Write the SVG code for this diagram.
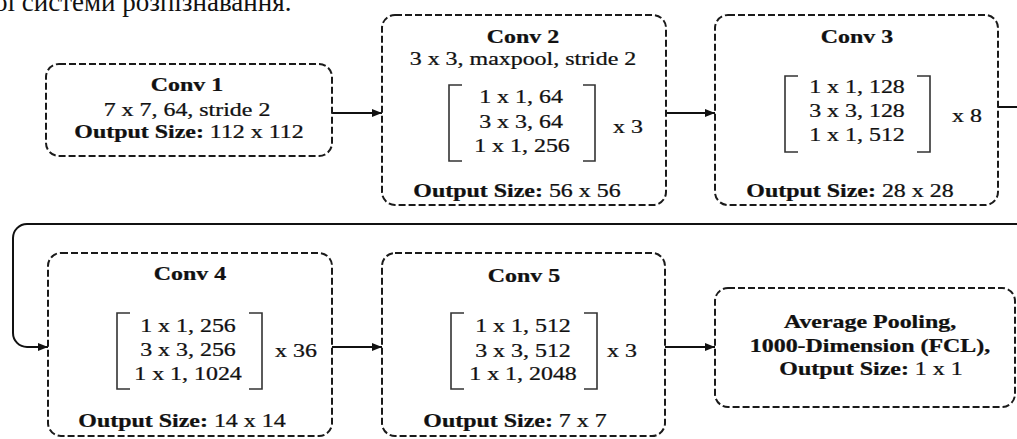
<svg xmlns="http://www.w3.org/2000/svg" width="1017" height="439" viewBox="0 0 1017 439">
<style>
.t{font-family:"Liberation Serif","Times New Roman",serif;font-size:18px;fill:#111;stroke:#111;stroke-width:0.25}
.m{text-anchor:middle}
.b{font-weight:bold}
.box{fill:none;stroke:#1a1a1a;stroke-width:2;stroke-dasharray:7 3}
.br{fill:none;stroke:#333;stroke-width:1.6}
.conn{fill:none;stroke:#111;stroke-width:2}
.cap{font-family:"Liberation Serif","Times New Roman",serif;font-size:27px;fill:#111}
</style>
<defs>
<marker id="ah" markerUnits="userSpaceOnUse" markerWidth="10" markerHeight="8" refX="10" refY="4" orient="auto">
<path d="M0,0 L10,4 L0,8 z" fill="#111"/>
</marker>
</defs>
<rect width="1017" height="439" fill="#fff"/>
<text class="cap" x="-6" y="11">ої системи розпізнавання.</text>

<g id="connectors">
<path class="conn" d="M332,113 H382" marker-end="url(#ah)"/>
<path class="conn" d="M666,113 H715" marker-end="url(#ah)"/>
<path class="conn" d="M998,107 H1030 V224 H27 A14 14 0 0 0 13,238 V333 A14 14 0 0 0 27,347 H48" marker-end="url(#ah)"/>
<path class="conn" d="M332,347 H382" marker-end="url(#ah)"/>
<path class="conn" d="M665,347 H715" marker-end="url(#ah)"/>
</g>

<g id="conv1">
<rect class="box" x="46" y="64" width="286" height="92" rx="13"/>
<text class="t m b" transform="translate(187,91) scale(1.33,1)">Conv 1</text>
<text class="t m" transform="translate(187,116) scale(1.33,1)">7 x 7, 64, stride 2</text>
<text class="t m" transform="translate(189,138) scale(1.33,1)"><tspan class="b">Output Size:</tspan> 112 x 112</text>
</g>

<g id="conv2">
<rect class="box" x="382" y="15" width="284" height="190" rx="13"/>
<text class="t m b" transform="translate(523,43) scale(1.33,1)">Conv 2</text>
<text class="t m" transform="translate(523,65) scale(1.33,1)">3 x 3, maxpool, stride 2</text>
<path class="br" d="M462,85 H449 V161 H462 M583,85 H595 V161 H583"/>
<text class="t m" transform="translate(521,103) scale(1.33,1)">1 x 1, 64</text>
<text class="t m" transform="translate(521,128) scale(1.33,1)">3 x 3, 64</text>
<text class="t m" transform="translate(522,152) scale(1.33,1)">1 x 1, 256</text>
<text class="t" transform="translate(613,133) scale(1.33,1)">x 3</text>
<text class="t m" transform="translate(517,197) scale(1.33,1)"><tspan class="b">Output Size:</tspan> 56 x 56</text>
</g>

<g id="conv3">
<rect class="box" x="715" y="15" width="283" height="190" rx="13"/>
<text class="t m b" transform="translate(857,43) scale(1.33,1)">Conv 3</text>
<path class="br" d="M798,76 H785 V152 H798 M917,76 H930 V152 H917"/>
<text class="t m" transform="translate(857,93) scale(1.33,1)">1 x 1, 128</text>
<text class="t m" transform="translate(857,117) scale(1.33,1)">3 x 3, 128</text>
<text class="t m" transform="translate(857,141) scale(1.33,1)">1 x 1, 512</text>
<text class="t" transform="translate(952,122) scale(1.33,1)">x 8</text>
<text class="t m" transform="translate(850,197) scale(1.33,1)"><tspan class="b">Output Size:</tspan> 28 x 28</text>
</g>

<g id="conv4">
<rect class="box" x="48" y="253" width="284" height="183" rx="13"/>
<text class="t m b" transform="translate(190,280) scale(1.33,1)">Conv 4</text>
<path class="br" d="M130,313 H117 V389 H130 M249,313 H262 V389 H249"/>
<text class="t m" transform="translate(188,332) scale(1.33,1)">1 x 1, 256</text>
<text class="t m" transform="translate(188,356) scale(1.33,1)">3 x 3, 256</text>
<text class="t m" transform="translate(188,380) scale(1.33,1)">1 x 1, 1024</text>
<text class="t" transform="translate(275,357) scale(1.33,1)">x 36</text>
<text class="t m" transform="translate(182,427) scale(1.33,1)"><tspan class="b">Output Size:</tspan> 14 x 14</text>
</g>

<g id="conv5">
<rect class="box" x="382" y="253" width="283" height="183" rx="13"/>
<text class="t m b" transform="translate(524,282) scale(1.33,1)">Conv 5</text>
<path class="br" d="M464,313 H451 V389 H464 M584,313 H597 V389 H584"/>
<text class="t m" transform="translate(523,332) scale(1.33,1)">1 x 1, 512</text>
<text class="t m" transform="translate(523,357) scale(1.33,1)">3 x 3, 512</text>
<text class="t m" transform="translate(523,380) scale(1.33,1)">1 x 1, 2048</text>
<text class="t" transform="translate(607,357) scale(1.33,1)">x 3</text>
<text class="t m" transform="translate(515,427) scale(1.33,1)"><tspan class="b">Output Size:</tspan> 7 x 7</text>
</g>

<g id="avgpool">
<rect class="box" x="715" y="288" width="300" height="119" rx="13"/>
<text class="t m b" transform="translate(870,328) scale(1.33,1)">Average Pooling,</text>
<text class="t m b" transform="translate(870,352) scale(1.33,1)">1000-Dimension (FCL),</text>
<text class="t m" transform="translate(871,375) scale(1.33,1)"><tspan class="b">Output Size:</tspan> 1 x 1</text>
</g>
</svg>
